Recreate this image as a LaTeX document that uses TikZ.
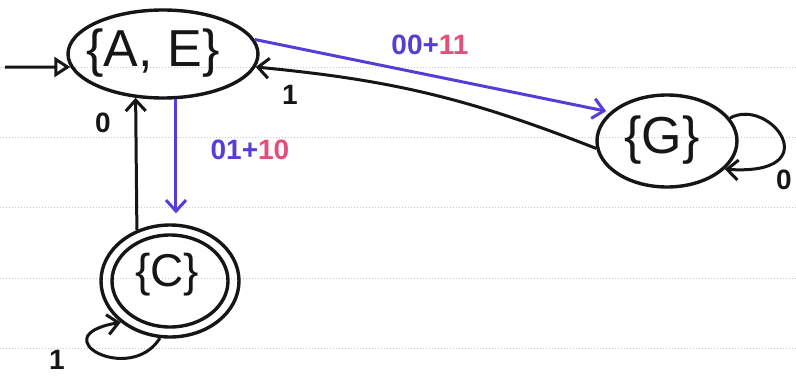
\documentclass[tikz,border=0pt]{standalone}
\usepackage{fontspec}
\setmainfont{Liberation Sans}
\usetikzlibrary{arrows.meta,shapes.geometric}
\definecolor{pen}{RGB}{22,22,22}
\definecolor{ink}{RGB}{88,60,215}
\definecolor{pinkink}{RGB}{228,78,120}
\definecolor{paperline}{RGB}{200,200,205}
\begin{document}
\begin{tikzpicture}[x=1pt,y=1pt,
  state/.style={ellipse,draw=pen,line width=3.4pt,inner sep=0pt},
  bigtext/.style={font=\fontsize{52}{56}\selectfont,text=pen,inner sep=0pt},
  edge/.style={line width=3pt,draw=pen,-{Straight Barb[length=11pt,width=20pt,line width=3pt]}},
  blueedge/.style={edge,draw=ink},
  initedge/.style={line width=3pt,draw=pen,-{Triangle[open,length=16pt,width=20pt,line width=3pt]}},
  lbl/.style={font=\fontsize{28}{30}\selectfont\bfseries,text=pen,inner sep=1pt},
  paper/.style={draw=paperline,line width=1pt,dotted},
]
\clip (0,0) rectangle (796,376);
\fill[white] (0,0) rectangle (796,376);
% notebook lines
\foreach \yy in {309,239,169,98,28} {\draw[paper] (0,\yy) -- (796,\yy);}

% states
\node[state,minimum width=190pt,minimum height=88pt] (AE) at (163,322) {};
\node[bigtext] (AEtext) at (153,323) {\{A, E\}};
\node[state,minimum width=140pt,minimum height=92pt] (G) at (667,235) {};
\node[bigtext] (Gtext) at (662,236) {\{G\}};
\node[state,minimum width=138pt,minimum height=112pt] (C) at (170,95) {};
\draw[pen,line width=3.4pt] (C.center) ellipse [x radius=58pt, y radius=46pt];
\node[bigtext,font=\fontsize{46}{50}\selectfont] (Ctext) at (167,101) {\{C\}};

% initial arrow
\coordinate (init) at (5,309);
\draw[initedge] (init) -- (AE.188);

% AE -> G
\draw[blueedge,shorten >=4pt] (AE.9) -- (G.153);
\node[lbl] (l1) at (430,331) {\textcolor{ink}{00+}\textcolor{pinkink}{11}};

% G -> AE
\draw[edge] (G.186) to[bend right=8] (AE.352);
\node[lbl] (l2) at (290,281) {1};

% AE -> C
\draw[blueedge,shorten >=10pt] (AE.-74) -- (AE.-74 |- C.north);
\node[lbl] (l3) at (250,226) {\textcolor{ink}{01+}\textcolor{pinkink}{10}};

% C -> AE
\draw[edge] (C.123.4) -- (AE.238);
\node[lbl] (l4) at (103,253) {0};

% G self-loop
\draw[edge] (G.20) .. controls (770,280) and (830,200) .. (G.-26);
\node[lbl] (l5) at (784,196) {0};

% C self-loop
\draw[edge] (C.-100) .. controls (130,-10) and (40,40) .. (C.220);
\node[lbl] (l6) at (57,16) {1};
\end{tikzpicture}
\end{document}
